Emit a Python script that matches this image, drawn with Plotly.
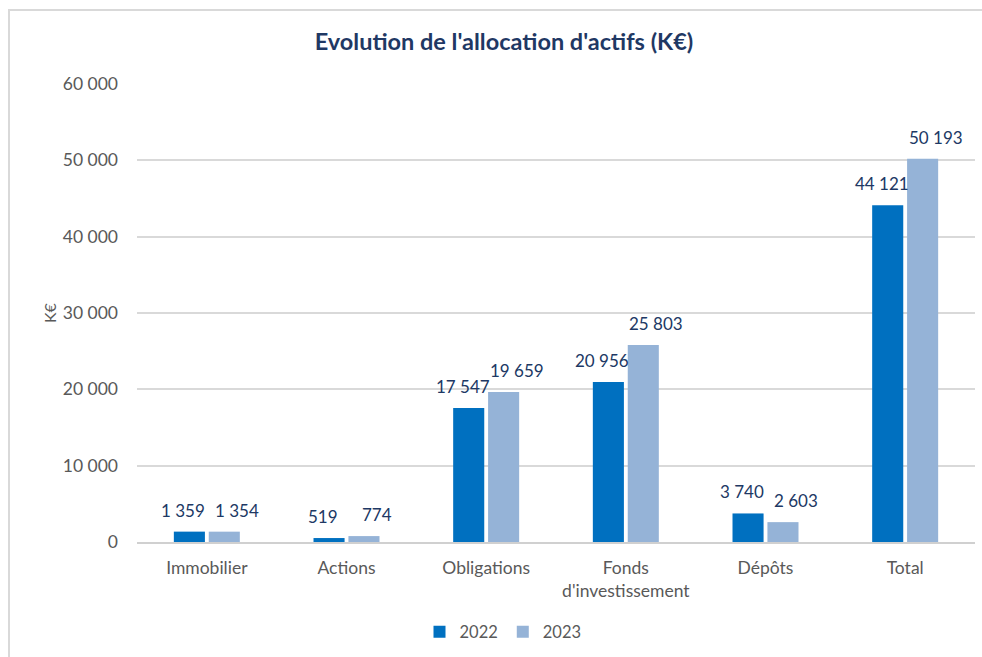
import plotly.graph_objects as go

categories = ["Immobilier", "Actions", "Obligations", "Fonds<br>d'investissement", "Dépôts", "Total"]
values_2022 = [1359, 519, 17547, 20956, 3740, 44121]
values_2023 = [1354, 774, 19659, 25803, 2603, 50193]
series_names = ["2022", "2023"]
title_text = "Evolution de l'allocation d'actifs (K€)"
y_ticks = [0, 10000, 20000, 30000, 40000, 50000, 60000]

W, H = 982, 657
L, R, T, B = 137, 7, 84, 115
pw, ph = W - L - R, H - T - B
BARGAP, GROUPGAP = 0.5, 0.11

def px_x(p):
    return (p - L) / pw

def px_y(p):
    return (H - B - p) / ph

font_family = "Lato, Open Sans, sans-serif"
label_color = "#203864"
colors = ["#0070C0", "#95B3D7"]

fig = go.Figure()
for name, vals, col in zip(series_names, [values_2022, values_2023], colors):
    fig.add_trace(go.Bar(name=name, x=categories, y=vals, marker_color=col, marker_line_width=0))

# data labels, placed over each bar of the group (slightly spread apart like the reference)
cat_w = pw / len(categories)
slot = cat_w * (1 - BARGAP) / 2
annotations = []
for k, vals in enumerate([values_2022, values_2023]):
    base_shift = (k - 0.5) * slot
    extra = -6 if k == 0 else 13
    for c, v in zip(categories, vals):
        annotations.append(dict(
            x=c, y=v, xref="x", yref="y", text=f"{v:,}".replace(",", " "),
            showarrow=False, yanchor="bottom", xanchor="center",
            xshift=base_shift + extra, yshift=9,
            font=dict(size=17, color=label_color, family=font_family)))

annotations.append(dict(text="K€", x=px_x(49), y=0.5, xref="paper", yref="paper", textangle=-90,
                        xanchor="center", yanchor="middle", showarrow=False,
                        font=dict(size=16, color="#595959")))

fig.update_layout(
    width=W, height=H,
    margin=dict(l=L, r=R, t=T, b=B),
    paper_bgcolor="white", plot_bgcolor="white",
    separators=", ",
    barmode="group", bargap=BARGAP, bargroupgap=GROUPGAP,
    font=dict(family=font_family, color="#595959", size=17),
    title=dict(text="<b>" + title_text + "</b>", x=px_x(504), xref="paper", xanchor="center",
               y=1 - 42 / H, yanchor="middle",
               font=dict(size=23.5, color="#1F3864", family=font_family)),
    xaxis=dict(showgrid=False, showline=True, linecolor="#D0D0D0", linewidth=1.5,
               tickfont=dict(size=17.5, color="#595959"), ticks="", ticklabelstandoff=9),
    yaxis=dict(range=[0, 60000], tickvals=y_ticks, tickformat=",", showgrid=True,
               gridcolor="#D9D9D9", gridwidth=1.5, zeroline=False, showline=False,
               tickfont=dict(size=17.5, color="#595959"), ticks="", ticklabelstandoff=18),
    legend=dict(orientation="h", x=px_x(503), xanchor="center", y=px_y(632), yanchor="middle",
                font=dict(size=16.5, color="#595959"), itemwidth=30, traceorder="normal"),
    annotations=annotations,
    shapes=[dict(type="rect", xref="paper", yref="paper", x0=px_x(9), y0=px_y(700),
                 x1=px_x(1100), y1=px_y(10), line=dict(color="#D9D9D9", width=2),
                 fillcolor="rgba(0,0,0,0)", layer="below")],
)

fig.write_html("out.html", config={"displayModeBar": False},
               post_script="document.body.style.margin='0';")
